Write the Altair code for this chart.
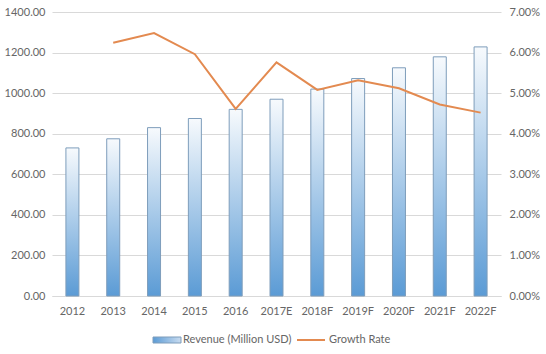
import altair as alt
import pandas as pd

years = ["2012", "2013", "2014", "2015", "2016", "2017E", "2018F", "2019F", "2020F", "2021F", "2022F"]
revenue = [730, 775, 830, 875, 920, 970, 1020, 1072, 1125, 1179, 1228]
growth = [None, 0.0624, 0.0648, 0.0596, 0.0461, 0.0576, 0.0508, 0.0532, 0.0512, 0.0472, 0.0452]

df = pd.DataFrame({"year": years, "revenue": revenue, "growth": growth})

FONT = "Lato"
GRAY = "#666666"
LINE = "#E38A50"
grad = alt.Gradient(
    gradient="linear", x1=0, x2=0, y1=0, y2=1,
    stops=[alt.GradientStop(color="#F7FAFD", offset=0),
           alt.GradientStop(color="#5B9BD5", offset=1)],
)

x = alt.X("year:N", sort=years, title=None,
          scale=alt.Scale(paddingInner=0, paddingOuter=0),
          axis=alt.Axis(labelAngle=0, ticks=False, domain=True, domainColor="#D9D9D9",
                        labelPadding=9, labelColor=GRAY, labelFont=FONT, labelFontSize=11, grid=False))

bars = alt.Chart(df).mark_bar(size=13, fill=grad, stroke="#7E9DBB", strokeWidth=1).encode(
    x=x,
    y=alt.Y("revenue:Q", title=None,
            scale=alt.Scale(domain=[0, 1400], nice=False),
            axis=alt.Axis(values=list(range(0, 1401, 200)), format=".2f", ticks=False, domain=False,
                          labelPadding=7, labelColor=GRAY, labelFont=FONT, labelFontSize=11,
                          gridColor="#D9D9D9", gridWidth=1)),
)

line = alt.Chart(df).mark_line(color=LINE, strokeWidth=2).encode(
    x=alt.X("year:N", sort=years),
    y=alt.Y("growth:Q", title=None,
            scale=alt.Scale(domain=[0, 0.07], nice=False),
            axis=alt.Axis(orient="right", values=[0, 0.01, 0.02, 0.03, 0.04, 0.05, 0.06, 0.07],
                          format=".2%", ticks=False, domain=False, grid=False,
                          labelPadding=8, labelColor=GRAY, labelFont=FONT, labelFontSize=11)),
)

# legend
leg_rect = alt.Chart(pd.DataFrame({"a": [0]})).mark_rect(fill=alt.Gradient(
    gradient="linear", x1=0, x2=1, y1=0, y2=0,
    stops=[alt.GradientStop(color="#5B9BD5", offset=0),
           alt.GradientStop(color="#C9DCF0", offset=1)]), stroke="#7E9DBB", strokeWidth=1).encode(
    x=alt.value(101), x2=alt.value(129), y=alt.value(325), y2=alt.value(331))
leg_text1 = alt.Chart(pd.DataFrame({"t": ["Revenue (Million USD)"]})).mark_text(
    align="left", baseline="middle", font=FONT, fontSize=11, color=GRAY).encode(
    x=alt.value(131), y=alt.value(328), text="t:N")
leg_line = alt.Chart(pd.DataFrame({"a": [0]})).mark_rule(color=LINE, strokeWidth=2).encode(
    x=alt.value(245), x2=alt.value(273), y=alt.value(328))
leg_text2 = alt.Chart(pd.DataFrame({"t": ["Growth Rate"]})).mark_text(
    align="left", baseline="middle", font=FONT, fontSize=11, color=GRAY).encode(
    x=alt.value(277), y=alt.value(328), text="t:N")

chart = alt.layer(bars, line, leg_rect, leg_text1, leg_line, leg_text2).resolve_scale(y="independent").properties(
    width=449, height=284,
    autosize=alt.AutoSizeParams(type="none"),
    padding={"left": 52, "top": 12, "right": 45, "bottom": 58},
    background="white",
).configure_view(stroke=None)

chart.save("out.html", embed_options={"renderer": "svg", "actions": False})
